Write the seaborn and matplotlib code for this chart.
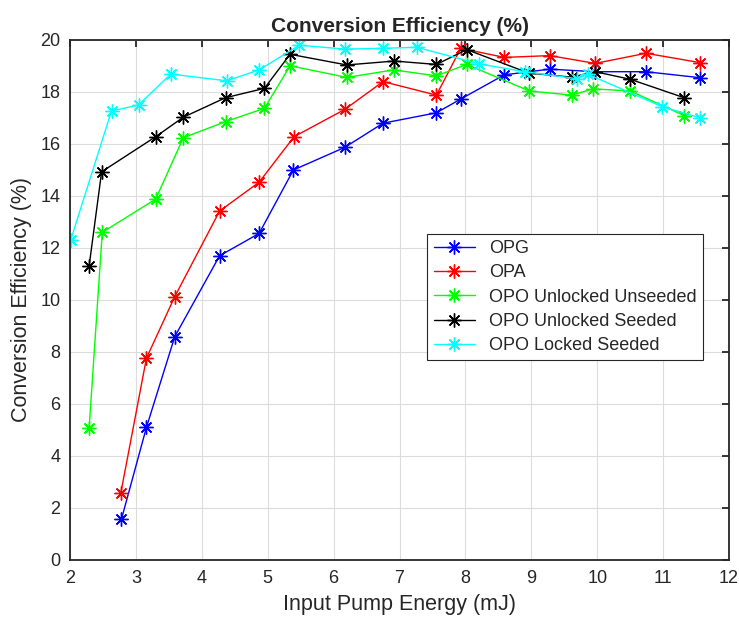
import matplotlib
matplotlib.use("Agg")
import matplotlib.pyplot as plt
import seaborn as sns

# data
opg_x = [2.78, 3.16, 3.59, 4.27, 4.87, 5.39, 6.17, 6.75, 7.56, 7.93, 8.59, 9.28, 9.96, 10.74, 11.56]
opg_y = [1.56, 5.10, 8.59, 11.70, 12.56, 15.00, 15.87, 16.80, 17.20, 17.73, 18.66, 18.88, 18.78, 18.78, 18.55]

opa_x = [2.77, 3.16, 3.59, 4.27, 4.87, 5.40, 6.17, 6.75, 7.56, 7.93, 8.59, 9.28, 9.97, 10.74, 11.56]
opa_y = [2.56, 7.76, 10.13, 13.42, 14.53, 16.28, 17.33, 18.40, 17.88, 19.68, 19.33, 19.40, 19.10, 19.49, 19.13]

unl_unseed_x = [2.29, 2.49, 3.30, 3.72, 4.36, 4.95, 5.34, 6.20, 6.91, 7.56, 8.02, 8.97, 9.61, 9.94, 10.50, 11.32]
unl_unseed_y = [5.06, 12.60, 13.88, 16.24, 16.86, 17.37, 19.01, 18.56, 18.85, 18.62, 19.06, 18.04, 17.88, 18.12, 18.04, 17.09]

unl_seed_x = [2.29, 2.48, 3.30, 3.72, 4.36, 4.95, 5.34, 6.20, 6.92, 7.56, 8.02, 8.96, 9.61, 9.97, 10.50, 11.32]
unl_seed_y = [11.30, 14.93, 16.28, 17.03, 17.78, 18.14, 19.45, 19.04, 19.19, 19.06, 19.63, 18.73, 18.57, 18.78, 18.49, 17.78]

lock_seed_x = [2.01, 2.63, 3.04, 3.53, 4.38, 4.87, 5.48, 6.17, 6.75, 7.26, 8.21, 8.90, 9.70, 9.86, 10.99, 11.56]
lock_seed_y = [12.30, 17.27, 17.50, 18.69, 18.43, 18.85, 19.80, 19.65, 19.68, 19.72, 19.08, 18.78, 18.51, 18.68, 17.43, 17.01]

series = [
    ("OPG", opg_x, opg_y, "#0000ff"),
    ("OPA", opa_x, opa_y, "#ff0000"),
    ("OPO Unlocked Unseeded", unl_unseed_x, unl_unseed_y, "#00ff00"),
    ("OPO Unlocked Seeded", unl_seed_x, unl_seed_y, "#000000"),
    ("OPO Locked Seeded", lock_seed_x, lock_seed_y, "#00ffff"),
]

sns.set_style("white")
plt.rcParams["font.family"] = ["Liberation Sans", "DejaVu Sans"]

fig = plt.figure(figsize=(7.39, 6.24), dpi=100)
ax = fig.add_axes([0.0947, 0.1026, 0.8918, 0.8333])

for name, xs, ys, col in series:
    sns.lineplot(x=xs, y=ys, ax=ax, color=col, label=name, sort=False,
                 estimator=None, linewidth=1.0, marker=(8, 2, 0),
                 markersize=10, markeredgewidth=1.0, markeredgecolor=col)

ax.set_xlim(2, 12)
ax.set_ylim(0, 20)
ax.set_xticks(range(2, 13))
ax.set_yticks(range(0, 21, 2))
ax.grid(True, color="#dcdcdc", linewidth=0.8)
ax.set_axisbelow(True)
for sp in ax.spines.values():
    sp.set_color("#262626")
    sp.set_linewidth(1.3)
ax.tick_params(direction="in", length=5, width=1.3, top=True, right=True,
               labelsize=13, colors="#262626", pad=7)

ax.set_xlabel("Input Pump Energy (mJ)", fontsize=15.5, color="#262626", labelpad=5)
ax.set_ylabel("Conversion Efficiency (%)", fontsize=15.5, color="#262626", labelpad=6)
ax.set_title("Conversion Efficiency (%)", fontsize=15, fontweight="bold", pad=6)

leg = ax.legend(loc="upper left", bbox_to_anchor=(0.542, 0.627), fontsize=13,
                fancybox=False, framealpha=1, edgecolor="#262626",
                handlelength=2.3, borderpad=0.35, labelspacing=0.4,
                borderaxespad=0)
leg.get_frame().set_linewidth(0.8)

fig.savefig("out.png", dpi=100)
